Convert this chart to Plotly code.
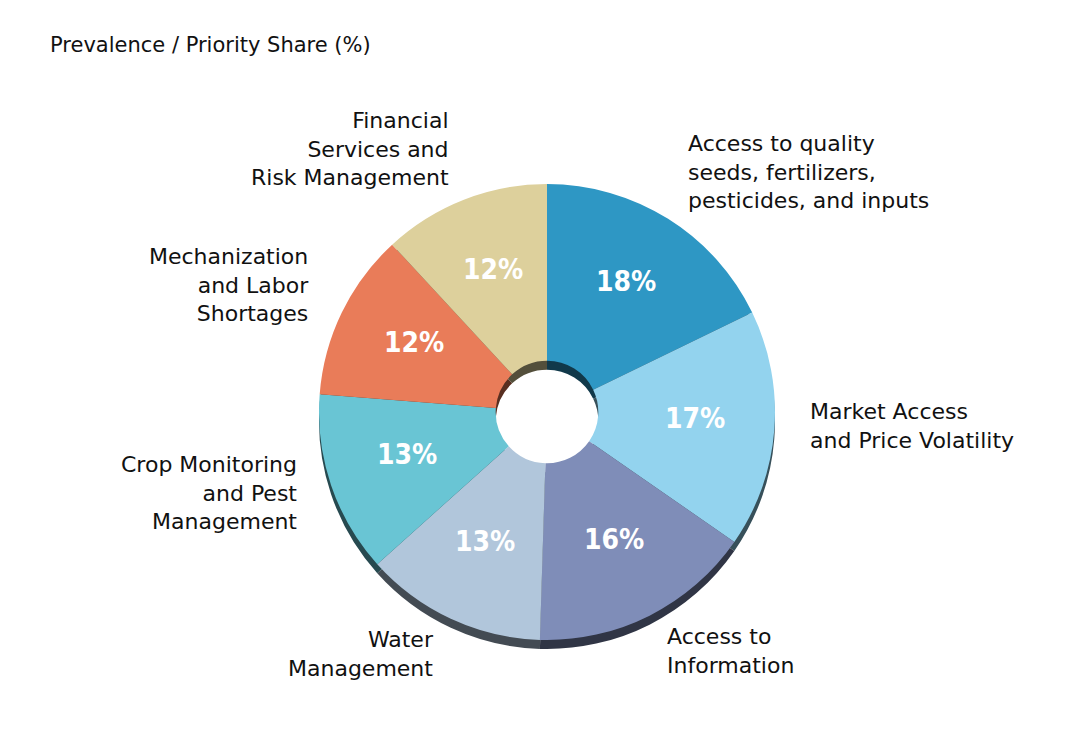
import math
import plotly.graph_objects as go

labels = [
    "Access to quality<br>seeds, fertilizers,<br>pesticides, and inputs",
    "Market Access<br>and Price Volatility",
    "Access to<br>Information",
    "Water<br>Management",
    "Crop Monitoring<br>and Pest<br>Management",
    "Mechanization<br>and Labor<br>Shortages",
    "Financial<br>Services and<br>Risk Management",
]
values = [18, 17, 16, 13, 13, 12, 12]
colors = ["#2E97C4", "#93D3EE", "#7F8DB8", "#B1C6DB", "#69C5D4", "#E97C59", "#DDD09C"]
title_text = "Prevalence / Priority Share (%)"

W, H = 1081, 746
OFF = 8  # page body margin
CX, CY, R = 547 - OFF, 412 - OFF, 228
SHADOW_DY = 9
HOLE = 0.225


def darken(hex_color, f=0.38):
    h = hex_color.lstrip("#")
    r, g, b = (int(h[i:i + 2], 16) for i in (0, 2, 4))
    return "rgb(%d,%d,%d)" % (r * f, g * f, b * f)


def domain(cx, cy, r):
    return dict(x=[(cx - r) / W, (cx + r) / W], y=[1 - (cy + r) / H, 1 - (cy - r) / H])


fig = go.Figure()
# extruded shadow (3D side)
fig.add_trace(go.Pie(
    values=values, labels=labels, sort=False, direction="clockwise", rotation=0,
    hole=HOLE, marker=dict(colors=[darken(c) for c in colors], line=dict(width=0)),
    textinfo="none", hoverinfo="skip", showlegend=False,
    domain=domain(CX, CY + SHADOW_DY, R),
))
# top face
fig.add_trace(go.Pie(
    values=values, labels=labels, sort=False, direction="clockwise", rotation=0,
    hole=HOLE, marker=dict(colors=colors, line=dict(width=0)),
    textinfo="none", hoverinfo="label+value", showlegend=False,
    domain=domain(CX, CY, R),
))

total = sum(values)
annotations = []
cum = 0
AX, BY, DY = 262, 275, -7       # outside label ellipse
PR, PDY = 148, -5               # inside percentage radius
for lab, v in zip(labels, values):
    mid = (cum + v / 2) / total * 2 * math.pi
    cum += v
    s, c = math.sin(mid), math.cos(mid)
    # outside category label
    px = CX + AX * s
    py = CY - BY * c + DY
    xa = "left" if s > 0 else "right"
    annotations.append(dict(
        x=px / W, y=1 - py / H, xref="paper", yref="paper", text=lab, showarrow=False,
        xanchor=xa, yanchor="middle", align=xa,
        font=dict(family="DejaVu Sans", size=22, color="#111111"),
    ))
    # inside percentage
    tx = CX + PR * s
    ty = CY - PR * c + PDY
    annotations.append(dict(
        x=tx / W, y=1 - ty / H, xref="paper", yref="paper", text=f"{v}%", showarrow=False,
        xanchor="center", yanchor="middle",
        font=dict(family="DejaVu Sans Condensed, Roboto", size=28, color="white", weight="bold"),
    ))

annotations.append(dict(
    x=(48 - OFF) / W, y=1 - (45 - OFF) / H, xref="paper", yref="paper", text=title_text,
    showarrow=False, xanchor="left", yanchor="middle",
    font=dict(family="DejaVu Sans", size=21, color="#111111"),
))

fig.update_layout(
    width=W, height=H, margin=dict(l=0, r=0, t=0, b=0),
    paper_bgcolor="white", plot_bgcolor="white",
    annotations=annotations,
)
fig.write_html("out.html")
